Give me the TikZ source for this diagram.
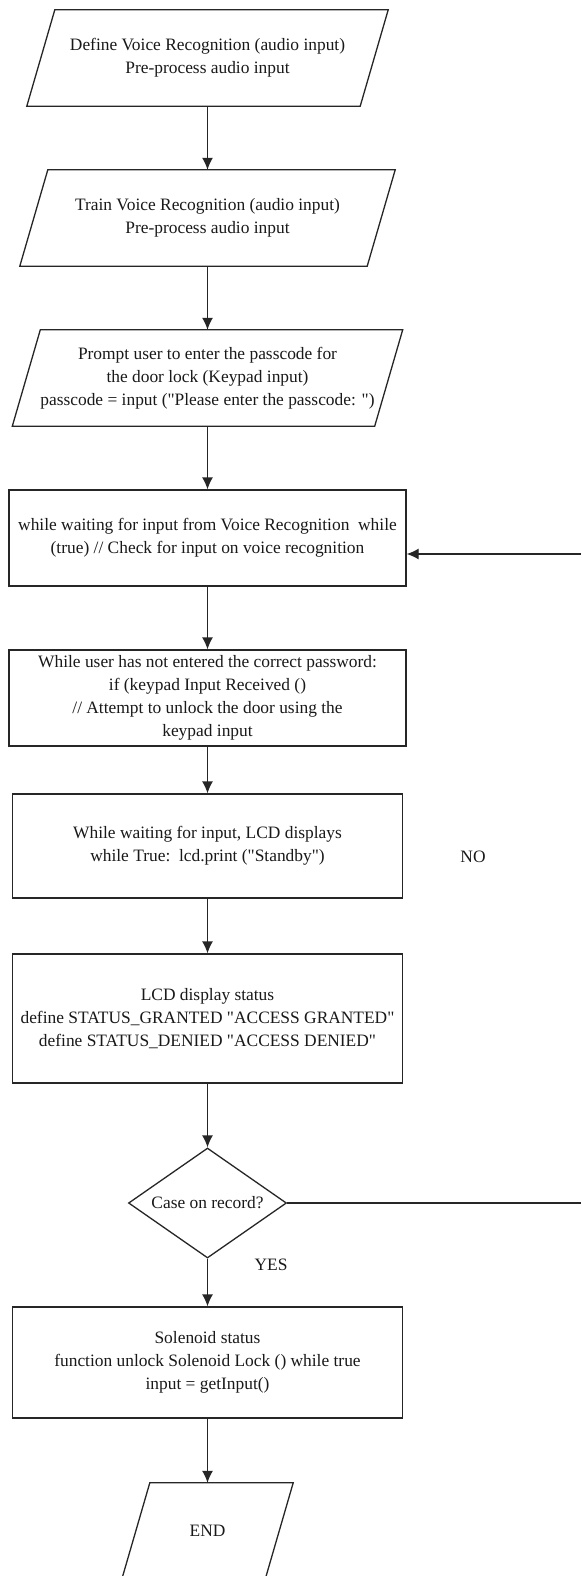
\documentclass[tikz,border=0pt]{standalone}
\usepackage{fontspec}
\setmainfont{Liberation Serif}[Ligatures=TeXOff]
\usetikzlibrary{shapes.geometric,arrows.meta}
\begin{document}
\begin{tikzpicture}[x=1pt,y=-1pt,
  every node/.style={font=\fontsize{17.4}{23}\selectfont, text=black!90, align=center, inner sep=0pt},
  ln/.style={draw=black!85, line width=1.3pt},
  arr/.style={ln, -{Latex[length=12pt,width=11pt]}},
  para/.style={rectangle, minimum height=96pt},
  boxr/.style={ln, rectangle, minimum width=390pt},
  dec/.style={ln, diamond, aspect=1.44, minimum width=158pt, minimum height=110pt},
  lbl/.style={}
]
\path[use as bounding box, clip] (0,0) rectangle (581,1576);
\fill[white] (0,0) rectangle (581,1576);

\node[para, minimum width=361pt] (p1) at (207.5,58) {Define Voice Recognition (audio input)\\Pre-process audio input};
\node[para, minimum width=375pt] (p2) at (207.5,218) {Train Voice Recognition (audio input)\\Pre-process audio input};
\node[para, minimum width=390pt] (p3) at (207.5,378) {Prompt user to enter the passcode for\\the door lock (Keypad input)\\passcode = input ("Please enter the passcode: ")};
\node[boxr, minimum width=397pt, minimum height=96pt] (r4) at (207.5,538) {while waiting for input from Voice Recognition\ \ while\\(true) // Check for input on voice recognition};
\node[boxr, minimum width=397pt, minimum height=96pt] (r5) at (207.5,698) {While user has not entered the correct password:\\if (keypad Input Received ()\\// Attempt to unlock the door using the\\keypad input};
\node[boxr, minimum height=104pt] (r6) at (207.5,846) {While waiting for input, LCD displays\\while True:\ \ lcd.print ("Standby")};
\node[boxr, minimum height=129pt] (r7) at (207.5,1018.5) {LCD display status\\define STATUS\_GRANTED "ACCESS GRANTED"\\define STATUS\_DENIED "ACCESS DENIED"};
\node[dec] (d) at (207.5,1203) {Case on record?};
\node[boxr, minimum height=111pt] (r8) at (207.5,1362.5) {Solenoid status\\function unlock Solenoid Lock () while true\\input = getInput()};
\node[para, minimum width=171pt] (e) at (207.5,1531) {END};

\foreach \n in {p1,p2,p3,e}{
  \draw[ln] ([xshift=28pt]\n.north west) -- (\n.north east) -- ([xshift=-28pt]\n.south east) -- (\n.south west) -- cycle;
}

\node[lbl] (no) at (473,857) {NO};
\node[lbl] (yes) at (271,1265) {YES};

\coordinate (loopR) at (581,554);
\coordinate (noR) at (581,1203);

\draw[arr] (p1) -- (p2);
\draw[arr] (p2) -- (p3);
\draw[arr] (p3) -- (r4);
\draw[arr] (r4) -- (r5);
\draw[arr] (r5) -- (r6);
\draw[arr] (r6) -- (r7);
\draw[arr] (r7) -- (d);
\draw[arr] (d) -- (r8);
\draw[arr] (r8) -- (e);
\draw[arr] (loopR) -- (r4.east |- loopR);
\draw[ln] (d.east) -- (noR);
\end{tikzpicture}
\end{document}
